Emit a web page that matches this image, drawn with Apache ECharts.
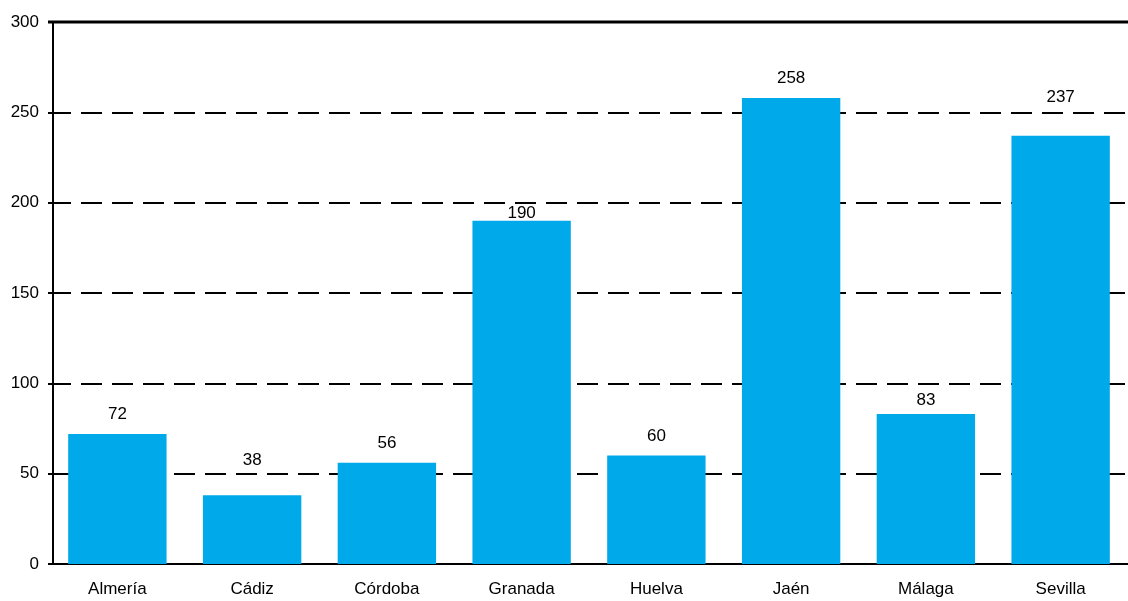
<!DOCTYPE html>
<html><head><meta charset="utf-8">
<script src="https://cdn.jsdelivr.net/npm/echarts@6/dist/echarts.min.js"></script>
<style>html,body{margin:0;padding:0;background:#fff}#c{width:1128px;height:601px}</style>
</head><body><div id="c"></div>
<script>
const categories = ['Almería','Cádiz','Córdoba','Granada','Huelva','Jaén','Málaga','Sevilla'];
const values = [72, 38, 56, 190, 60, 258, 83, 237];
const yTicks = [0, 50, 100, 150, 200, 250, 300];

const font = '"Liberation Sans Narrow", "Arial Narrow", "Liberation Sans", sans-serif';
// label gaps above bars (styling only, so labels avoid gridlines as in the reference)
const labelGaps = [11, 27, 11, -1, 11, 11, 5, 30];
const chart = echarts.init(document.getElementById('c'));
const seriesData = values.map((v, i) => ({ value: v, label: { distance: labelGaps[i] } }));
chart.setOption({
  animation: false,
  grid: { left: 50, right: -3, top: 22, bottom: 37, containLabel: false },
  xAxis: {
    type: 'category', data: categories,
    axisLine: { lineStyle: { color: '#000', width: 2 } },
    axisTick: { show: false },
    axisLabel: { color: '#000', fontSize: 17, fontFamily: font, margin: 17 }
  },
  yAxis: {
    type: 'value', min: 0, max: 300, interval: 50, offset: -3,
    axisLine: { show: true, lineStyle: { color: '#000', width: 2 } },
    axisTick: { show: true, length: 5, lineStyle: { color: '#000', width: 2 } },
    axisLabel: { color: '#000', fontSize: 17, fontFamily: font, margin: 14,
      formatter: v => yTicks.includes(v) ? String(v) : '' },
    splitLine: { show: true, lineStyle: { color: '#000', width: 2, type: [21, 10] } }
  },
  series: [{
    type: 'bar', data: seriesData, barWidth: '73%',
    itemStyle: { color: '#00A9E9' },
    label: { show: true, position: 'top', distance: 11, color: '#000', fontSize: 17, fontFamily: font }
  }],
  graphic: [{
    type: 'line', shape: { x1: 48, y1: 22, x2: 1128, y2: 22 },
    style: { stroke: '#000', lineWidth: 3 }, z: 10
  }]
});
</script></body></html>
